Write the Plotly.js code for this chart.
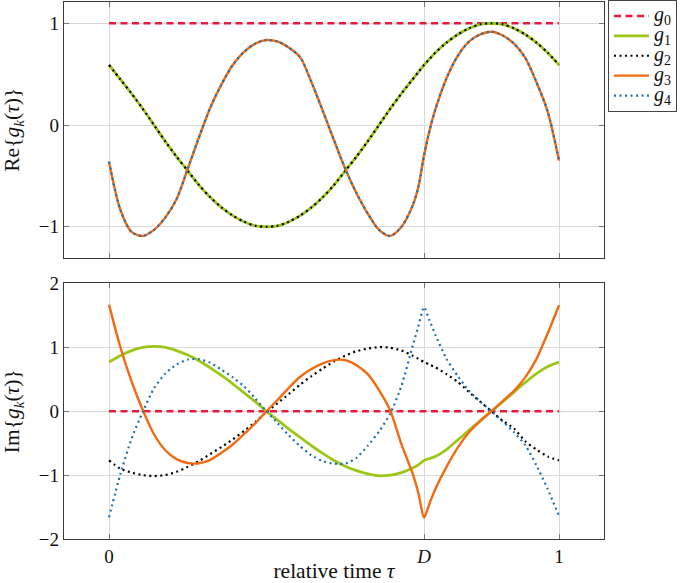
<!DOCTYPE html>
<html>
<head>
<meta charset="utf-8">
<script src="https://cdn.plot.ly/plotly-3.0.1.min.js"></script>
<style>
  html, body { margin: 0; padding: 0; background: #fff; }
  #chart { width: 685px; height: 583px; }
</style>
</head>
<body>
<div id="chart"></div>
<script>
// ---- data ----
const tau = [0, 0.025, 0.05, 0.075, 0.1, 0.125, 0.15, 0.175, 0.2, 0.225, 0.25, 0.275, 0.3, 0.325,
  0.35, 0.375, 0.4, 0.425, 0.45, 0.475, 0.5, 0.525, 0.55, 0.575, 0.6, 0.625, 0.65, 0.675,
  0.6875, 0.7, 0.7125, 0.725, 0.75, 0.775, 0.8, 0.825, 0.85, 0.875, 0.9, 0.925, 0.95, 0.975, 1];

const tauG0 = [0, 1];
const reG0 = [1, 1];
const imG0 = [0, 0];

const reG1 = [0.59, 0.45, 0.31, 0.16, 0.0, -0.16, -0.31, -0.45, -0.59, -0.71, -0.81, -0.89, -0.95, -0.99,
  -1.0, -0.99, -0.95, -0.89, -0.81, -0.71, -0.59, -0.45, -0.31, -0.16, 0.0, 0.16, 0.31, 0.45,
  0.52, 0.59, 0.65, 0.71, 0.81, 0.89, 0.95, 0.99, 1.0, 0.99, 0.95, 0.89, 0.81, 0.71, 0.59];
const reG2 = reG1;   // drawn on top of g1, identical in the picture

const reG3 = [-0.36, -0.83, -1.05, -1.09, -1.03, -0.91, -0.73, -0.43, -0.12, 0.17, 0.40, 0.59, 0.72, 0.80,
  0.835, 0.82, 0.76, 0.665, 0.42, 0.14, -0.15, -0.43, -0.67, -0.87, -1.03, -1.09, -1.0, -0.79,
  -0.61, -0.30, -0.05, 0.15, 0.46, 0.68, 0.82, 0.89, 0.917, 0.88, 0.80, 0.66, 0.42, 0.13, -0.35];
const reG4 = reG3;   // drawn on top of g3, identical in the picture

const imG1 = [0.77, 0.87, 0.95, 1.0, 1.015, 1.0, 0.95, 0.88, 0.79, 0.68, 0.56, 0.43, 0.29, 0.15,
  0.0, -0.14, -0.28, -0.41, -0.54, -0.66, -0.77, -0.86, -0.93, -0.98, -1.01, -1.0, -0.96, -0.89,
  -0.84, -0.77, -0.74, -0.71, -0.60, -0.45, -0.30, -0.15, 0.0, 0.15, 0.30, 0.45, 0.59, 0.70, 0.77];

const imG2 = [-0.77, -0.90, -0.96, -1.0, -1.015, -1.0, -0.95, -0.87, -0.78, -0.67, -0.56, -0.44, -0.31, -0.17,
  -0.01, 0.13, 0.27, 0.42, 0.55, 0.67, 0.78, 0.87, 0.94, 0.98, 1.005, 0.995, 0.95, 0.87,
  0.82, 0.77, 0.73, 0.69, 0.58, 0.46, 0.30, 0.15, 0.0, -0.15, -0.27, -0.47, -0.60, -0.71, -0.77];

const imG3 = [1.67, 1.01, 0.47, 0.02, -0.36, -0.61, -0.75, -0.81, -0.815, -0.76, -0.65, -0.52, -0.36, -0.19,
  0.0, 0.18, 0.37, 0.54, 0.66, 0.75, 0.80, 0.80, 0.72, 0.58, 0.33, 0.01, -0.52, -0.98,
  -1.28, -1.67, -1.44, -1.22, -0.87, -0.57, -0.33, -0.15, 0.0, 0.16, 0.32, 0.53, 0.82, 1.22, 1.66];

const imG4 = [-1.66, -0.99, -0.43, -0.01, 0.36, 0.59, 0.73, 0.81, 0.815, 0.76, 0.65, 0.53, 0.39, 0.20,
  0.0, -0.19, -0.38, -0.55, -0.69, -0.78, -0.82, -0.82, -0.73, -0.54, -0.32, -0.04, 0.40, 1.03,
  1.33, 1.63, 1.42, 1.20, 0.82, 0.55, 0.32, 0.15, 0.0, -0.16, -0.33, -0.53, -0.85, -1.22, -1.64];

const xTickVals = [0, 0.7, 1];
const xTickText = ['0', '<i>D</i>', '1'];
const seriesLabels = ['0', '1', '2', '3', '4'];

// ---- styles ----
const styles = [
  {color: '#e8193c', width: 2.4, dash: '7px,4.5px'},
  {color: '#9cc71a', width: 2.8, dash: 'solid'},
  {color: '#000000', width: 2.2, dash: '2px,3.5px'},
  {color: '#f26b12', width: 2.4, dash: 'solid'},
  {color: '#1f6fb0', width: 2.2, dash: '2px,3.5px'}
];

const reData = [reG0, reG1, reG2, reG3, reG4];
const imData = [imG0, imG1, imG2, imG3, imG4];

const legendName = s => '<span style="font-size:20px"><i>g</i><sub>' + s + '</sub></span>';

const traces = [];
for (let k = 0; k < 5; k++) {
  const xs = k === 0 ? tauG0 : tau;
  traces.push({
    x: xs, y: reData[k], xaxis: 'x', yaxis: 'y', type: 'scatter', mode: 'lines',
    name: legendName(seriesLabels[k]), legendgroup: 'g' + k, showlegend: true,
    line: {color: styles[k].color, width: styles[k].width, dash: styles[k].dash,
           shape: k === 0 ? 'linear' : 'spline', smoothing: 0.8}
  });
}
for (let k = 0; k < 5; k++) {
  const xs = k === 0 ? tauG0 : tau;
  traces.push({
    x: xs, y: imData[k], xaxis: 'x2', yaxis: 'y2', type: 'scatter', mode: 'lines',
    name: legendName(seriesLabels[k]), legendgroup: 'g' + k, showlegend: false,
    line: {color: styles[k].color, width: styles[k].width, dash: styles[k].dash,
           shape: k === 0 ? 'linear' : 'spline', smoothing: 0.6}
  });
}

const FONT = '"Liberation Serif", "DejaVu Serif", serif';
const TICK = {family: FONT, size: 19, color: '#111'};
const TITLE = {family: FONT, size: 21.5, color: '#111'};
const axisCommon = {
  showgrid: true, gridcolor: '#d9d9d9', gridwidth: 1,
  zeroline: false, showline: true, mirror: 'ticks',
  linecolor: '#3a3a3a', linewidth: 1.3,
  ticks: 'inside', ticklen: 5, tickcolor: '#777', tickwidth: 1,
  tickfont: TICK
};

const layout = {
  width: 685, height: 583,
  margin: {l: 64, r: 81, t: 1, b: 44, pad: 0},
  paper_bgcolor: '#fff', plot_bgcolor: '#fff',
  font: TICK,
  showlegend: true,
  legend: {
    x: 1.0074, xanchor: 'left', y: 1.002, yanchor: 'top',
    bordercolor: '#444', borderwidth: 1, bgcolor: '#fff',
    font: {family: FONT, size: 13, color: '#111'},
    tracegroupgap: 0, itemwidth: 35
  },
  xaxis: Object.assign({}, axisCommon, {
    domain: [0, 1], range: [-0.1, 1.1], anchor: 'y',
    tickvals: xTickVals, showticklabels: false
  }),
  yaxis: Object.assign({}, axisCommon, {
    domain: [0.5242, 1], range: [-1.302, 1.209], anchor: 'x',
    tickvals: [-1, 0, 1],
    title: {text: 'Re{<i>g</i><sub><i>k</i></sub>(<i>τ</i>)}', font: TITLE, standoff: 13}
  }),
  xaxis2: Object.assign({}, axisCommon, {
    domain: [0, 1], range: [-0.1, 1.1], anchor: 'y2',
    tickvals: xTickVals, ticktext: xTickText,
    title: {text: 'relative time <i>τ</i>', font: TITLE, standoff: 0}
  }),
  yaxis2: Object.assign({}, axisCommon, {
    domain: [0, 0.4758], range: [-2, 2], anchor: 'x2',
    tickvals: [-2, -1, 0, 1, 2],
    title: {text: 'Im{<i>g</i><sub><i>k</i></sub>(<i>τ</i>)}', font: TITLE, standoff: 13}
  })
};

Plotly.newPlot('chart', traces, layout, {displayModeBar: false, staticPlot: true});
</script>
</body>
</html>
